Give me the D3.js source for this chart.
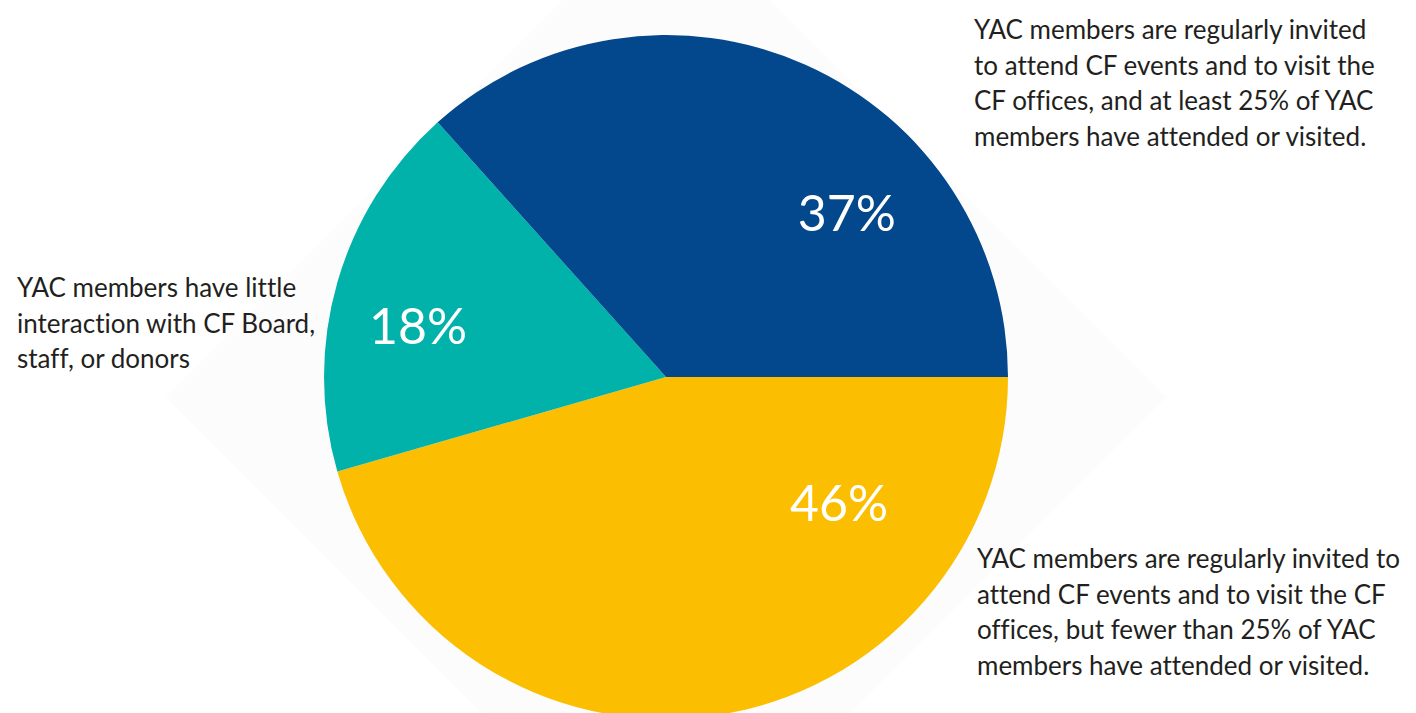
<!DOCTYPE html>
<html>
<head>
<meta charset="utf-8">
<script src="https://cdn.jsdelivr.net/npm/d3@7"></script>
<style>
  body { margin: 0; background: #fff; }
  svg { display: block; font-family: Lato, "Noto Sans", sans-serif; font-variant-ligatures: none; }
</style>
</head>
<body>
<div id="chart"></div>
<script>
    // data (clockwise from 3 o'clock)
    const categories = ['fewer', 'little', 'atleast'];
    const values = [46, 18, 37];
    const valueLabels = ['46%', '18%', '37%'];
    const colors = ['#FBBE00', '#00B2AA', '#03478C'];
    const callouts = [
        ['YAC members are regularly invited to', 'attend CF events and to visit the CF', 'offices, but fewer than 25% of YAC', 'members have attended or visited.'],
        ['YAC members have little', 'interaction with CF Board,', 'staff, or donors'],
        ['YAC members are regularly invited', 'to attend CF events and to visit the', 'CF offices, and at least 25% of YAC', 'members have attended or visited.']
    ];

    const WIDTH = 1416;
    const HEIGHT = 713;
    const CX = 666, CY = 377;
    const RADIUS = 342;
    // where the percent sits inside its slice: fraction of the sweep, distance from centre
    const labelFrac = [0.22, 0.43, 0.68];
    const labelDist = [214, 253, 244];
    const calloutPos = [[977, 568], [17, 297], [974, 39]];
    const LINE_H = 35.5;

    let svg = d3.select('#chart')
        .append('svg')
        .attr('width', WIDTH)
        .attr('height', HEIGHT);

    // faint diamond behind the pie
    let d = 500;
    svg.append('path')
        .attr('d', `M${CX - d},${CY + 20}L${CX},${CY + 20 - d}L${CX + d},${CY + 20}L${CX},${CY + 20 + d}Z`)
        .attr('fill', '#fcfcfc');

    let pie = d3.pie()
        .sort(null)
        .value(v => v)
        .startAngle(Math.PI / 2)
        .endAngle(Math.PI / 2 + 2 * Math.PI);
    let arcs = pie(values);

    let arc = d3.arc().innerRadius(0).outerRadius(RADIUS);

    let g = svg.append('g').attr('transform', `translate(${CX},${CY})`);
    g.selectAll('path.slice')
        .data(arcs)
        .join('path')
        .attr('class', 'slice')
        .attr('d', arc)
        .attr('fill', (a, i) => colors[i]);

    g.selectAll('text.pct')
        .data(arcs)
        .join('text')
        .attr('class', 'pct')
        .attr('transform', (a, i) => {
            let ang = a.startAngle + (a.endAngle - a.startAngle) * labelFrac[i];
            let x = Math.sin(ang) * labelDist[i];
            let y = -Math.cos(ang) * labelDist[i];
            return `translate(${x},${y})`;
        })
        .attr('text-anchor', 'middle')
        .attr('dy', '0.36em')
        .attr('fill', '#fff')
        .attr('font-size', 50)
        .text((a, i) => valueLabels[i]);

    // callout paragraphs
    callouts.forEach((lines, i) => {
        let t = svg.append('text')
            .attr('x', calloutPos[i][0])
            .attr('y', calloutPos[i][1])
            .attr('fill', '#231f20')
            .attr('font-size', 26);
        t.selectAll('tspan')
            .data(lines)
            .join('tspan')
            .attr('x', calloutPos[i][0])
            .attr('dy', (l, j) => j === 0 ? 0 : LINE_H)
            .text(l => l);
    });
</script>
</body>
</html>
